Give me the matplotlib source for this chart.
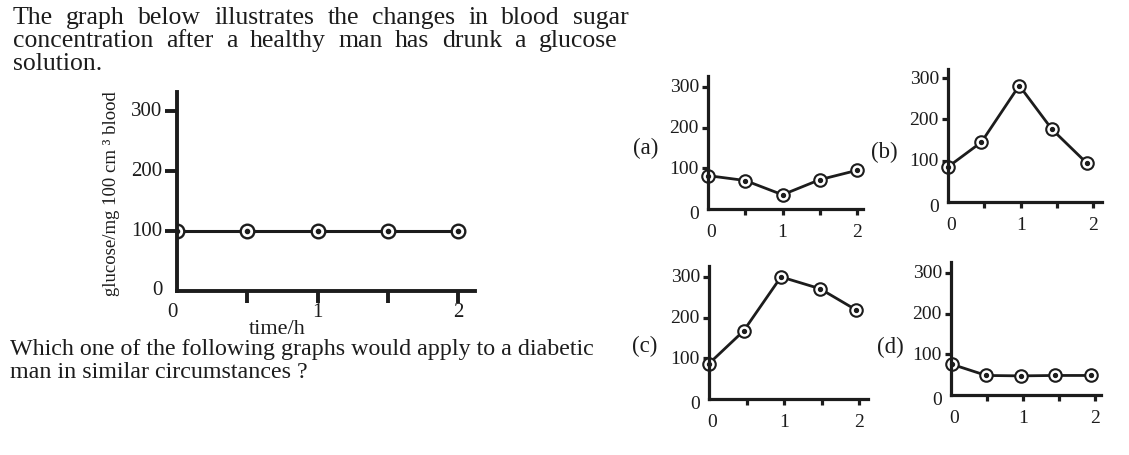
import matplotlib
matplotlib.use("Agg")
import matplotlib.pyplot as plt

# ---------------- data ----------------
main_x = [0, 0.5, 1, 1.5, 2]
main_y = [100, 100, 100, 100, 100]
main_yticks = [0, 100, 200, 300]
main_xticks = [0.5, 1, 1.5, 2]
main_xlabels = [0, 1, 2]

a_x = [0, 0.5, 1, 1.5, 2]
a_y = [82, 70, 35, 72, 95]
b_x = [0, 0.46, 0.98, 1.43, 1.91]
b_y = [85, 145, 282, 176, 94]
c_x = [0, 0.46, 0.96, 1.48, 1.96]
c_y = [87, 167, 300, 271, 219]
d_x = [0.02, 0.49, 0.97, 1.44, 1.94]
d_y = [75, 48, 47, 48, 48]
small_yticks = [0, 100, 200, 300]
small_xlabels = [0, 1, 2]
panel_names = ["(a)", "(b)", "(c)", "(d)"]

intro_lines = ["The graph below illustrates the changes in blood sugar",
               "concentration after a healthy man has drunk a glucose",
               "solution."]
question_lines = ["Which one of the following graphs would apply to a diabetic",
                  "man in similar circumstances ?"]
ylabel_text = "glucose/mg 100 cm \u00b3 blood"
xlabel_text = "time/h"

# ---------------- figure ----------------
W, H = 1129, 456
plt.rcParams['font.family'] = ['Liberation Serif', 'DejaVu Serif']
fig = plt.figure(figsize=(W / 100, H / 100), dpi=100)
INK = '#1c1c1c'

def fx(x):
    return x / W

def fy(y):
    return 1 - y / H

def px_axes(l, t, r, b):
    return fig.add_axes([fx(l), fy(b), (r - l) / W, (b - t) / H])

renderer = fig.canvas.get_renderer()

def justified(text, x0, x1, base, size):
    words = text.split()
    objs = [fig.text(0, 0, w, fontsize=size, color=INK, va='baseline', ha='left') for w in words]
    widths = [o.get_window_extent(renderer).width for o in objs]
    gap = (x1 - x0 - sum(widths)) / (len(words) - 1)
    x = x0
    for o, w in zip(objs, widths):
        o.set_position((fx(x), fy(base)))
        x += w + gap

# intro text
justified(intro_lines[0], 13, 629, 24, 18.5)
justified(intro_lines[1], 13, 617, 47, 18.5)
fig.text(fx(13), fy(70), intro_lines[2], fontsize=18.5, color=INK, va='baseline')

# question text
fig.text(fx(10), fy(355), question_lines[0], fontsize=17.3, color=INK, va='baseline')
fig.text(fx(10), fy(378), question_lines[1], fontsize=17.3, color=INK, va='baseline')

def style_axes(ax, lw, ticklen):
    for s in ['top', 'right']:
        ax.spines[s].set_visible(False)
    for s in ['left', 'bottom']:
        ax.spines[s].set_linewidth(lw)
        ax.spines[s].set_color(INK)
        ax.spines[s].set_zorder(5)
    ax.tick_params(axis='both', direction='out', length=ticklen, width=lw,
                   color=INK, labelbottom=False, labelleft=False)
    ax.patch.set_alpha(0)

def draw_series(ax, xs, ys, clip, lw, ms, mew, dot):
    ax.plot(xs, ys, color=INK, lw=lw, zorder=2, clip_on=clip, solid_capstyle='round')
    ax.plot(xs, ys, ls='none', marker='o', ms=ms, mfc='white', mec=INK, mew=mew,
            zorder=3, clip_on=clip)
    ax.plot(xs, ys, ls='none', marker='o', ms=dot, color=INK, zorder=4, clip_on=clip)

# ---------------- main chart ----------------
ml, mt, mr, mb = 177, 93, 475, 292
ux, uy = 140.5, 60.0
ax = px_axes(ml, mt, mr, mb)
ax.set_xlim(0, (mr - ml) / ux)
ax.set_ylim(0, (mb - mt) / uy * 100)
style_axes(ax, 2.8, 8.5)
ax.set_xticks(main_xticks)
ax.set_yticks(main_yticks[1:])
draw_series(ax, main_x, main_y, True, 2.2, 9.8, 1.7, 3.0)
for v in main_yticks:
    ax.annotate(str(v), (0, v), xytext=(-10.5, 1 if v == 0 else 0), textcoords='offset points',
                ha='right', va='center', fontsize=15, color=INK, annotation_clip=False)
for v in main_xlabels:
    ax.annotate(str(v), (v, 0), xytext=(-3 if v == 0 else 0, -14.5), textcoords='offset points',
                ha='center', va='center', fontsize=15, color=INK, annotation_clip=False)
fig.text(fx(111), fy(194), ylabel_text, rotation=90, ha='center', va='center',
         fontsize=13.5, color=INK)
fig.text(fx(277), fy(330), xlabel_text, ha='center', va='center', fontsize=16, color=INK)

# ---------------- small charts ----------------
panels = [
    (708, 77, 863, 210, 74.5, 40.7, a_x, a_y, (658, 148)),
    (948, 70, 1102, 203, 72.7, 41.3, b_x, b_y, (898, 152)),
    (709, 267, 868, 400, 75.0, 40.7, c_x, c_y, (657, 346)),
    (951, 263, 1101, 396, 72.0, 40.7, d_x, d_y, (904, 347)),
]
for name, (l, t, r, b, pux, puy, xs, ys, lab) in zip(panel_names, panels):
    sa = px_axes(l, t, r, b)
    sa.set_xlim(0, (r - l) / pux)
    sa.set_ylim(0, (b - t) / puy * 100)
    style_axes(sa, 2.3, 4.0)
    sa.set_xticks(main_xticks)
    sa.set_yticks(small_yticks[1:])
    draw_series(sa, xs, ys, False, 2.0, 9.0, 1.5, 2.8)
    for v in small_yticks:
        sa.annotate(str(v), (0, v), xytext=(-6.5, -3.5 if v == 0 else 0), textcoords='offset points',
                    ha='right', va='center', fontsize=14, color=INK, annotation_clip=False)
    for v in small_xlabels:
        sa.annotate(str(v), (v, 0), xytext=(2 if v == 0 else 0, -16), textcoords='offset points',
                    ha='center', va='center', fontsize=14, color=INK, annotation_clip=False)
    fig.text(fx(lab[0]), fy(lab[1]), name, ha='right', va='center', fontsize=16.5, color=INK)

fig.savefig("out.png", dpi=100, facecolor='white')
